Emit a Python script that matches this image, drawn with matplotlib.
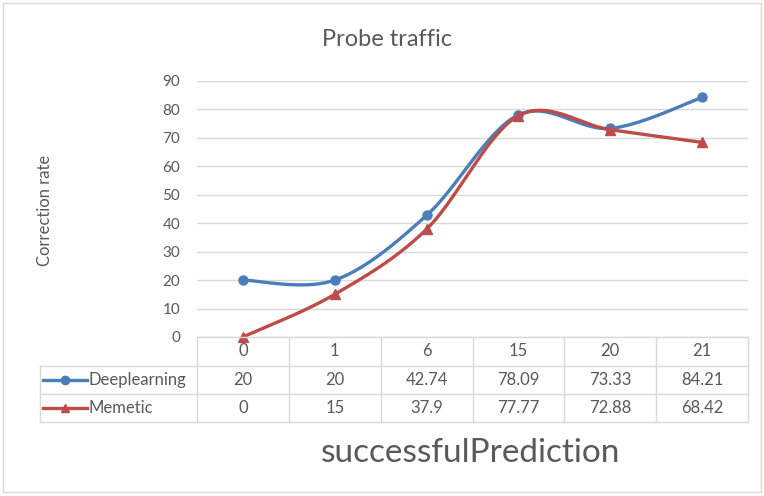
import numpy as np
import matplotlib.pyplot as plt
from matplotlib.lines import Line2D
from matplotlib.patches import Rectangle

categories = ['0', '1', '6', '15', '20', '21']
deeplearning = [20, 20, 42.74, 78.09, 73.33, 84.21]
memetic = [0, 15, 37.9, 77.77, 72.88, 68.42]
deeplearning_txt = ['20', '20', '42.74', '78.09', '73.33', '84.21']
memetic_txt = ['0', '15', '37.9', '77.77', '72.88', '68.42']
yticks = [0, 10, 20, 30, 40, 50, 60, 70, 80, 90]

BLUE = '#4a7ebb'
RED = '#be4b48'
TXT = '#595959'
GRID = '#d9d9d9'

plt.rcParams['font.family'] = ['Lato', 'DejaVu Sans']

W, H = 764, 496


def fx(px):
    return px / W


def fy(py):
    return 1 - py / H


def smooth(xs, ys, n=40):
    # excel-like smoothing: cubic bezier with catmull-rom control points
    pts = np.column_stack([xs, ys]).astype(float)
    out = []
    for i in range(len(pts) - 1):
        p0 = pts[max(i - 1, 0)]
        p1 = pts[i]
        p2 = pts[i + 1]
        p3 = pts[min(i + 2, len(pts) - 1)]
        c1 = p1 + (p2 - p0) / 6
        c2 = p2 - (p3 - p1) / 6
        t = np.linspace(0, 1, n)[:, None]
        seg = (1 - t) ** 3 * p1 + 3 * (1 - t) ** 2 * t * c1 + 3 * (1 - t) * t ** 2 * c2 + t ** 3 * p2
        out.append(seg if i == 0 else seg[1:])
    out = np.vstack(out)
    return out[:, 0], out[:, 1]


fig = plt.figure(figsize=(7.64, 4.96), dpi=100)
fig.patches.append(Rectangle((fx(3), fy(492)), fx(758), 489 / H, transform=fig.transFigure,
                             fill=False, edgecolor='#d9d9d9', linewidth=1))

x0, x1, ytop, ybot = 197, 748, 81, 337
ax = fig.add_axes([fx(x0), fy(ybot), fx(x1 - x0), (ybot - ytop) / H])
ax.set_xlim(-0.5, len(categories) - 0.5)
ax.set_ylim(0, 90)
ax.set_yticks(yticks)
ax.set_xticks([])
ax.tick_params(axis='y', length=0, labelsize=11, labelcolor=TXT, pad=12)
for s in ax.spines.values():
    s.set_visible(False)
ax.grid(axis='y', color=GRID, linewidth=1)
ax.set_axisbelow(True)

xs = np.arange(len(categories))
sx, sy = smooth(xs, deeplearning)
ax.plot(sx, sy, color=BLUE, linewidth=2.4, solid_capstyle='round', clip_on=False)
ax.plot(xs, deeplearning, 'o', color=BLUE, markersize=6.5, clip_on=False)
sx, sy = smooth(xs, memetic)
ax.plot(sx, sy, color=RED, linewidth=2.4, solid_capstyle='round', clip_on=False)
ax.plot(xs, memetic, '^', color=RED, markersize=7, clip_on=False)

fig.text(fx(387), fy(40), 'Probe traffic', ha='center', va='center',
         fontsize=17, color=TXT)
fig.text(fx(45), fy(210), 'Correction rate', rotation=90, ha='center', va='center',
         fontsize=12, color=TXT)
fig.text(fx(471), fy(453), 'successfulPrediction', ha='center', va='center',
         fontsize=24, color=TXT)

# data table under the plot
rows = [337, 366, 394, 422]
colw = (x1 - x0) / len(categories)
lab_left = 40
tl = dict(color=GRID, linewidth=1, transform=fig.transFigure)
fig.add_artist(Line2D([fx(x0), fx(x1)], [fy(rows[0])] * 2, **tl))
for r in rows[1:]:
    fig.add_artist(Line2D([fx(lab_left), fx(x1)], [fy(r)] * 2, **tl))
fig.add_artist(Line2D([fx(lab_left)] * 2, [fy(rows[1]), fy(rows[3])], **tl))
for i in range(len(categories) + 1):
    xx = x0 + i * colw
    fig.add_artist(Line2D([fx(xx)] * 2, [fy(rows[0]), fy(rows[3])], **tl))

for i, c in enumerate(categories):
    cx = fx(x0 + (i + 0.5) * colw)
    fig.text(cx, fy((rows[0] + rows[1]) / 2), c, ha='center', va='center', fontsize=12, color=TXT)
    fig.text(cx, fy((rows[1] + rows[2]) / 2), deeplearning_txt[i], ha='center', va='center',
             fontsize=12, color=TXT)
    fig.text(cx, fy((rows[2] + rows[3]) / 2), memetic_txt[i], ha='center', va='center',
             fontsize=12, color=TXT)

for r0, r1, name, col, mk in [(rows[1], rows[2], 'Deeplearning', BLUE, 'o'),
                              (rows[2], rows[3], 'Memetic', RED, '^')]:
    yc = fy((r0 + r1) / 2)
    fig.add_artist(Line2D([fx(43), fx(87)], [yc, yc], color=col, linewidth=2.4,
                          transform=fig.transFigure))
    fig.add_artist(Line2D([fx(65)], [yc], marker=mk, color=col, markersize=6,
                          transform=fig.transFigure))
    fig.text(fx(88), yc, name, ha='left', va='center', fontsize=12, color=TXT)

fig.savefig('out.png', dpi=100)
